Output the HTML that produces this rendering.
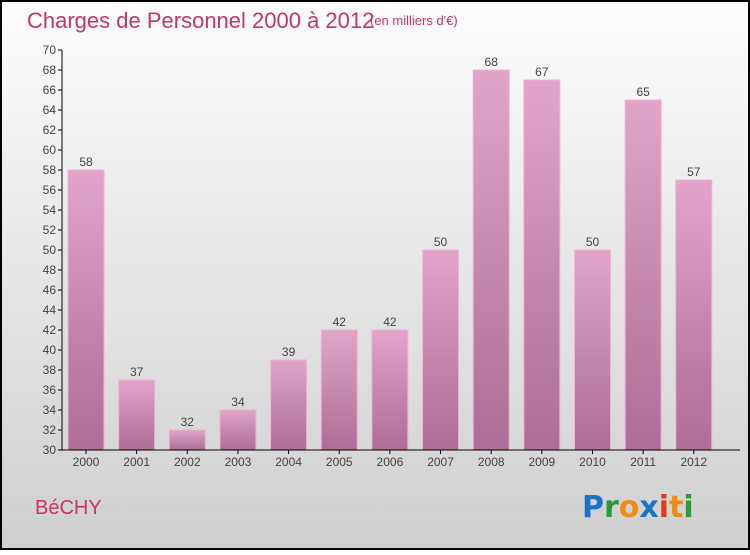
<!DOCTYPE html>
<html><head><meta charset="utf-8"><style>
body{margin:0;width:750px;height:550px;overflow:hidden;font-family:"Liberation Sans","DejaVu Sans",sans-serif}
</style></head><body>
<svg id="chart" width="750" height="550" xmlns="http://www.w3.org/2000/svg">
<defs>
<linearGradient id="bg" x1="0" y1="0" x2="0" y2="1"><stop offset="0" stop-color="#fdfdfd"/><stop offset="1" stop-color="#cfcfcf"/></linearGradient>
<linearGradient id="bar" x1="0" y1="0" x2="0" y2="1"><stop offset="0" stop-color="#e2a4c8"/><stop offset="1" stop-color="#ad6d94"/></linearGradient>
</defs>
<rect x="1" y="1" width="748" height="548" fill="url(#bg)" stroke="#000" stroke-width="2"/>
<text x="27" y="28" font-size="22" fill="#c8336a">Charges de Personnel 2000 à 2012</text>
<text x="370" y="25" font-size="13" fill="#c8336a">(en milliers d'€)</text>
<text x="35" y="514" font-size="20" fill="#c8336a">BéCHY</text>
<g font-size="30" font-weight="bold" font-family="'DejaVu Sans',sans-serif">
<text x="582" y="517"><tspan fill="#1a73c8">P</tspan><tspan fill="#2a9a3a">r</tspan><tspan fill="#f08a10">o</tspan><tspan fill="#1a73c8">x</tspan><tspan fill="#e03a1a">i</tspan><tspan fill="#f08a10">t</tspan><tspan fill="#2a9a3a">i</tspan></text>
</g>
<g id="plot"></g>
</svg>
<script>
const categories=["2000","2001","2002","2003","2004","2005","2006","2007","2008","2009","2010","2011","2012"];
const values=[58,37,32,34,39,42,42,50,68,67,50,65,57];
const yTicks=[30,32,34,36,38,40,42,44,46,48,50,52,54,56,58,60,62,64,66,68,70];
const NS="http://www.w3.org/2000/svg";
const g=document.getElementById('plot');
const y=v=>450-(v-30)*10;
const xc=i=>86+i*50.65;
function mk(t,a){const e=document.createElementNS(NS,t);for(const k in a)e.setAttribute(k,a[k]);g.appendChild(e);return e;}
yTicks.forEach(t=>{
 const l=mk('line',{x1:58,x2:62,y1:y(t),y2:y(t),stroke:'#000'});
 
 
 const tx=mk('text',{x:56,y:y(t)+4,'font-size':12,'text-anchor':'end',fill:'#444'});
 tx.textContent=t;
 
 
});
categories.forEach((c,i)=>{
 const r=mk('rect',{x:xc(i)-18,y:y(values[i]),width:36,height:450-y(values[i]),fill:'url(#bar)',stroke:'#e9b6d4','stroke-width':1});
 
 
 const v=mk('text',{x:xc(i),y:y(values[i])-4,'font-size':12,'text-anchor':'middle',fill:'#444'});
 v.textContent=values[i];
 
 
 const tk=mk('line',{x1:xc(i),x2:xc(i),y1:450,y2:454,stroke:'#000'});
 
 
 const t=mk('text',{x:xc(i),y:466,'font-size':12,'text-anchor':'middle',fill:'#444'});
 t.textContent=c;
 
 
});
const ya=mk('line',{x1:62,x2:62,y1:50,y2:450,stroke:'#000'});


const xa=mk('line',{x1:62,x2:740,y1:450,y2:450,stroke:'#000'});


</script>
</body></html>
